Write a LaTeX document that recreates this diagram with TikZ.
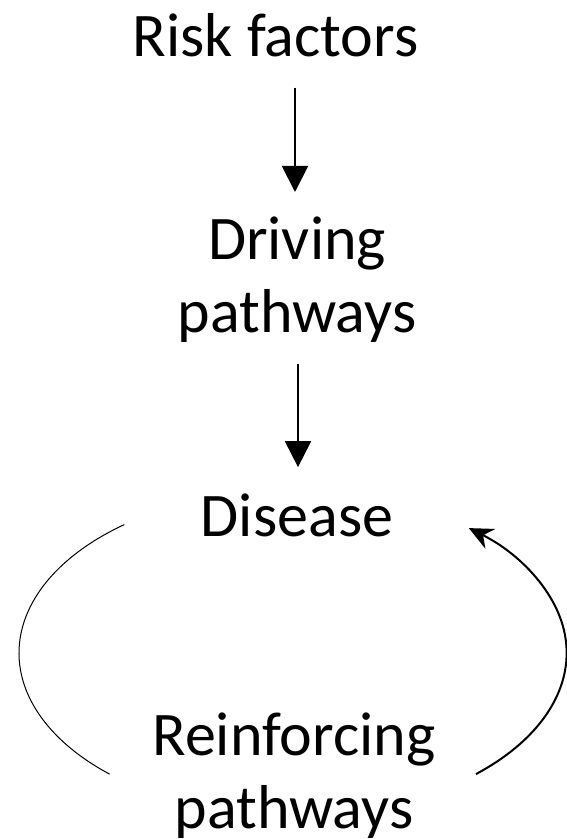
\documentclass[tikz,border=0pt]{standalone}
\usepackage{fontspec}
\setmainfont{Carlito}
\usetikzlibrary{arrows.meta,calc}
\begin{document}
\begin{tikzpicture}[x=1pt,y=1pt,
  lbl/.style={inner sep=0pt,font=\fontsize{62}{73}\selectfont,align=center},
  down/.style={line width=2pt,-{Triangle[width=26pt,length=26pt]}},
  loopthin/.style={line width=1pt},
  loopthick/.style={line width=2pt,-{Stealth[length=24pt,width=22pt,inset=8pt]}}]
\useasboundingbox (0,0) rectangle (567,839);
\node[lbl,anchor=base] (risk) at (275.5,782) {Risk factors};
\node[lbl,anchor=north] (driving) at (297,622) {Driving\\pathways};
\node[lbl,anchor=base] (disease) at (297,302) {Disease};
\node[lbl,anchor=north] (reinf) at (294,126) {Reinforcing\\pathways};
\draw[down,shorten <=30pt,shorten >=25pt] (risk.south -| 295,0) -- (driving.north -| 295,0);
\draw[down,shorten <=21pt,shorten >=27pt] (driving.south -| 298,0) -- (disease.north -| 298,0);
\coordinate (lstart) at (124.3,314.4);
\coordinate (rstart) at (476,64.9);
\draw[loopthin] (lstart) arc[start angle=128,end angle=228,x radius=274,y radius=163];
\draw[loopthick] (rstart) arc[start angle=-48,end angle=50,x radius=274,y radius=163];
\end{tikzpicture}
\end{document}
